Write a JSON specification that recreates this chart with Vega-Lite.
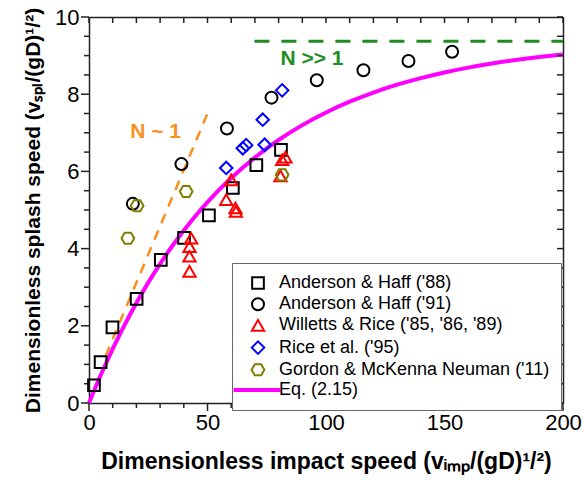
{
  "$schema": "https://vega.github.io/schema/vega-lite/v6.json",
  "width": 474,
  "height": 386,
  "autosize": "none",
  "padding": {"left": 89, "top": 17, "right": 21, "bottom": 86},
  "background": "white",
  "config": {"view": {"stroke": null}, "font": "Liberation Sans"},
  "datasets": {
    "curve": [
      {"x": 0, "y": 0}, {"x": 2, "y": 0.298}, {"x": 4, "y": 0.587}, {"x": 6, "y": 0.867}, {"x": 8, "y": 1.137},
      {"x": 10, "y": 1.4}, {"x": 15, "y": 2.02}, {"x": 20, "y": 2.592}, {"x": 25, "y": 3.119}, {"x": 30, "y": 3.606},
      {"x": 35, "y": 4.055}, {"x": 40, "y": 4.469}, {"x": 45, "y": 4.851}, {"x": 50, "y": 5.204}, {"x": 60, "y": 5.828},
      {"x": 70, "y": 6.36}, {"x": 80, "y": 6.813}, {"x": 90, "y": 7.199}, {"x": 100, "y": 7.527}, {"x": 110, "y": 7.806},
      {"x": 120, "y": 8.043}, {"x": 130, "y": 8.246}, {"x": 140, "y": 8.417}, {"x": 150, "y": 8.563}, {"x": 160, "y": 8.688},
      {"x": 170, "y": 8.794}, {"x": 180, "y": 8.885}, {"x": 190, "y": 8.962}, {"x": 200, "y": 9.027}
    ],
    "xticks": [
      {"v": 0}, {"v": 10}, {"v": 20}, {"v": 30}, {"v": 40}, {"v": 50}, {"v": 60}, {"v": 70}, {"v": 80}, {"v": 90}, {"v": 100},
      {"v": 110}, {"v": 120}, {"v": 130}, {"v": 140}, {"v": 150}, {"v": 160}, {"v": 170}, {"v": 180}, {"v": 190}, {"v": 200}
    ],
    "yticks": [
      {"v": 0}, {"v": 0.5}, {"v": 1}, {"v": 1.5}, {"v": 2}, {"v": 2.5}, {"v": 3}, {"v": 3.5}, {"v": 4}, {"v": 4.5}, {"v": 5},
      {"v": 5.5}, {"v": 6}, {"v": 6.5}, {"v": 7}, {"v": 7.5}, {"v": 8}, {"v": 8.5}, {"v": 9}, {"v": 9.5}, {"v": 10}
    ],
    "n1": [{"x": 7, "y": 1.22}, {"x": 50, "y": 7.5}],
    "nbig": [{"x": 69.8, "y": 9.37}, {"x": 200, "y": 9.37}],
    "labels": [
      {"x": 28.1, "y": 7.03, "label": "N ~ 1"},
      {"x": 94.1, "y": 8.91, "label": "N >> 1"}
    ],
    "points": [
      {"series": "Anderson & Haff ('88)", "x": 2.1, "y": 0.46},
      {"series": "Anderson & Haff ('88)", "x": 4.9, "y": 1.06},
      {"series": "Anderson & Haff ('88)", "x": 9.9, "y": 1.96},
      {"series": "Anderson & Haff ('88)", "x": 20.1, "y": 2.7},
      {"series": "Anderson & Haff ('88)", "x": 30.3, "y": 3.71},
      {"series": "Anderson & Haff ('88)", "x": 40.1, "y": 4.28},
      {"series": "Anderson & Haff ('88)", "x": 50.6, "y": 4.86},
      {"series": "Anderson & Haff ('88)", "x": 60.7, "y": 5.57},
      {"series": "Anderson & Haff ('88)", "x": 70.6, "y": 6.16},
      {"series": "Anderson & Haff ('88)", "x": 81.0, "y": 6.56},
      {"series": "Anderson & Haff ('91)", "x": 18.5, "y": 5.16},
      {"series": "Anderson & Haff ('91)", "x": 39.0, "y": 6.19},
      {"series": "Anderson & Haff ('91)", "x": 58.2, "y": 7.11},
      {"series": "Anderson & Haff ('91)", "x": 77.0, "y": 7.91},
      {"series": "Anderson & Haff ('91)", "x": 96.1, "y": 8.36},
      {"series": "Anderson & Haff ('91)", "x": 115.8, "y": 8.62},
      {"series": "Anderson & Haff ('91)", "x": 134.8, "y": 8.86},
      {"series": "Anderson & Haff ('91)", "x": 153.2, "y": 9.1},
      {"series": "Willetts & Rice ('85, '86, '89)", "x": 43.1, "y": 4.27},
      {"series": "Willetts & Rice ('85, '86, '89)", "x": 42.4, "y": 4.05},
      {"series": "Willetts & Rice ('85, '86, '89)", "x": 42.4, "y": 3.8},
      {"series": "Willetts & Rice ('85, '86, '89)", "x": 42.4, "y": 3.41},
      {"series": "Willetts & Rice ('85, '86, '89)", "x": 60.0, "y": 5.78},
      {"series": "Willetts & Rice ('85, '86, '89)", "x": 57.9, "y": 5.27},
      {"series": "Willetts & Rice ('85, '86, '89)", "x": 61.8, "y": 5.05},
      {"series": "Willetts & Rice ('85, '86, '89)", "x": 62.0, "y": 4.96},
      {"series": "Willetts & Rice ('85, '86, '89)", "x": 82.9, "y": 6.37},
      {"series": "Willetts & Rice ('85, '86, '89)", "x": 81.5, "y": 6.3},
      {"series": "Willetts & Rice ('85, '86, '89)", "x": 80.8, "y": 5.88},
      {"series": "Rice et al. ('95)", "x": 57.9, "y": 6.09},
      {"series": "Rice et al. ('95)", "x": 64.9, "y": 6.6},
      {"series": "Rice et al. ('95)", "x": 66.3, "y": 6.68},
      {"series": "Rice et al. ('95)", "x": 74.1, "y": 6.69},
      {"series": "Rice et al. ('95)", "x": 73.3, "y": 7.34},
      {"series": "Rice et al. ('95)", "x": 81.5, "y": 8.1},
      {"series": "Gordon & McKenna Neuman ('11)", "x": 16.4, "y": 4.27},
      {"series": "Gordon & McKenna Neuman ('11)", "x": 20.3, "y": 5.11},
      {"series": "Gordon & McKenna Neuman ('11)", "x": 41.0, "y": 5.48},
      {"series": "Gordon & McKenna Neuman ('11)", "x": 81.5, "y": 5.91}
    ]
  },
  "layer": [
    {
      "data": {"name": "curve"},
      "mark": {"type": "line", "color": "#FF00FF", "strokeWidth": 4, "interpolate": "monotone"},
      "encoding": {
        "x": {
          "field": "x", "type": "quantitative",
          "scale": {"domain": [0, 200], "nice": false},
          "axis": {
            "orient": "bottom",
            "values": [0, 50, 100, 150, 200],
            "format": "d",
            "ticks": false,
            "labelFontSize": 22, "labelFont": "Liberation Sans", "labelColor": "black", "labelPadding": 9,
            "labelOverlap": false, "labelFlush": false, "labelBound": false,
            "domainColor": "#222", "domainWidth": 1.5, "grid": false,
            "title": "Dimensionless impact speed (vᵢₘₚ/(gD)¹/²)",
            "titleFont": "Liberation Sans", "titleFontSize": 23, "titleFontWeight": "bold", "titleColor": "black", "titlePadding": 17
          }
        },
        "y": {
          "field": "y", "type": "quantitative",
          "scale": {"domain": [0, 10], "nice": false},
          "axis": {
            "orient": "left",
            "values": [0, 2, 4, 6, 8, 10],
            "format": "d",
            "ticks": false,
            "labelFontSize": 22, "labelFont": "Liberation Sans", "labelColor": "black", "labelPadding": 10,
            "labelOverlap": false, "labelBound": false, "labelFlush": false,
            "domainColor": "#222", "domainWidth": 1.5, "grid": false,
            "title": "Dimensionless splash speed (vₛₚₗ/(gD)¹/²)",
            "titleFont": "Liberation Sans", "titleFontSize": 21, "titleFontWeight": "bold", "titleColor": "black", "titlePadding": 11
          }
        }
      }
    },
    {
      "data": {"name": "curve"},
      "mark": {"type": "point", "opacity": 0},
      "encoding": {
        "x": {
          "field": "x", "type": "quantitative",
          "axis": {"orient": "top", "labels": false, "ticks": false, "title": null, "grid": false, "domainColor": "#222", "domainWidth": 1.5}
        },
        "y": {
          "field": "y", "type": "quantitative",
          "axis": {"orient": "right", "labels": false, "ticks": false, "title": null, "grid": false, "domainColor": "#222", "domainWidth": 1.5}
        }
      }
    },
    {
      "data": {"name": "xticks"},
      "transform": [{"filter": "datum.v % 50 === 0"}],
      "mark": {"type": "rule", "color": "#222", "strokeWidth": 1.5, "y2Offset": 8},
      "encoding": {
        "x": {"field": "v", "type": "quantitative", "axis": null},
        "y": {"datum": 0, "type": "quantitative", "axis": null},
        "y2": {"datum": 0}
      }
    },
    {
      "data": {"name": "xticks"},
      "transform": [{"filter": "datum.v % 50 !== 0"}],
      "mark": {"type": "rule", "color": "#222", "strokeWidth": 1.5, "y2Offset": 5},
      "encoding": {
        "x": {"field": "v", "type": "quantitative", "axis": null},
        "y": {"datum": 0, "type": "quantitative", "axis": null},
        "y2": {"datum": 0}
      }
    },
    {
      "data": {"name": "xticks"},
      "mark": {"type": "rule", "color": "#222", "strokeWidth": 1.5, "y2Offset": 6},
      "encoding": {
        "x": {"field": "v", "type": "quantitative", "axis": null},
        "y": {"datum": 10, "type": "quantitative", "axis": null},
        "y2": {"datum": 10}
      }
    },
    {
      "data": {"name": "yticks"},
      "transform": [{"filter": "datum.v % 2 === 0"}],
      "mark": {"type": "rule", "color": "#222", "strokeWidth": 1.5, "x2Offset": -8},
      "encoding": {
        "y": {"field": "v", "type": "quantitative", "axis": null},
        "x": {"datum": 0, "type": "quantitative", "axis": null},
        "x2": {"datum": 0}
      }
    },
    {
      "data": {"name": "yticks"},
      "transform": [{"filter": "datum.v % 2 !== 0"}],
      "mark": {"type": "rule", "color": "#222", "strokeWidth": 1.5, "x2Offset": -5},
      "encoding": {
        "y": {"field": "v", "type": "quantitative", "axis": null},
        "x": {"datum": 0, "type": "quantitative", "axis": null},
        "x2": {"datum": 0}
      }
    },
    {
      "data": {"name": "yticks"},
      "mark": {"type": "rule", "color": "#222", "strokeWidth": 1.5, "x2Offset": -6},
      "encoding": {
        "y": {"field": "v", "type": "quantitative", "axis": null},
        "x": {"datum": 200, "type": "quantitative", "axis": null},
        "x2": {"datum": 200}
      }
    },
    {
      "data": {"name": "n1"},
      "mark": {"type": "line", "color": "#F7901E", "strokeWidth": 2.5, "strokeDash": [10, 8]},
      "encoding": {
        "x": {"field": "x", "type": "quantitative", "axis": null},
        "y": {"field": "y", "type": "quantitative", "axis": null}
      }
    },
    {
      "data": {"name": "nbig"},
      "mark": {"type": "line", "color": "#1E8C1E", "strokeWidth": 3, "strokeDash": [15, 12]},
      "encoding": {
        "x": {"field": "x", "type": "quantitative", "axis": null},
        "y": {"field": "y", "type": "quantitative", "axis": null}
      }
    },
    {
      "data": {"name": "labels"},
      "transform": [{"filter": "datum.label === 'N ~ 1'"}],
      "mark": {"type": "text", "color": "#F7901E", "fontSize": 21, "fontWeight": "bold", "font": "Liberation Sans", "align": "center", "baseline": "middle"},
      "encoding": {
        "x": {"field": "x", "type": "quantitative", "axis": null},
        "y": {"field": "y", "type": "quantitative", "axis": null},
        "text": {"field": "label"}
      }
    },
    {
      "data": {"name": "labels"},
      "transform": [{"filter": "datum.label === 'N >> 1'"}],
      "mark": {"type": "text", "color": "#1E8C1E", "fontSize": 21, "fontWeight": "bold", "font": "Liberation Sans", "align": "center", "baseline": "middle"},
      "encoding": {
        "x": {"field": "x", "type": "quantitative", "axis": null},
        "y": {"field": "y", "type": "quantitative", "axis": null},
        "text": {"field": "label"}
      }
    },
    {
      "data": {"name": "points"},
      "mark": {"type": "point", "filled": false, "strokeWidth": 2, "opacity": 1},
      "encoding": {
        "x": {"field": "x", "type": "quantitative", "axis": null},
        "y": {"field": "y", "type": "quantitative", "axis": null},
        "color": {
          "field": "series", "type": "nominal",
          "scale": {
            "domain": ["Anderson & Haff ('88)", "Anderson & Haff ('91)", "Willetts & Rice ('85, '86, '89)", "Rice et al. ('95)", "Gordon & McKenna Neuman ('11)", "Eq. (2.15)"],
            "range": ["#000000", "#000000", "#FF0000", "#0000FF", "#808000", "#FF00FF"]
          },
          "legend": {
            "orient": "none", "legendX": 143, "legendY": 246, "title": null,
            "labelFontSize": 18, "labelFont": "Liberation Sans", "labelColor": "black", "labelLimit": 500,
            "padding": 11, "rowPadding": 1.2, "strokeColor": "#666", "fillColor": "white",
            "symbolOffset": 6, "labelOffset": 12, "symbolStrokeWidth": 2,
            "encode": {"symbols": {"update": {"fill": {"value": "transparent"}}}}
          }
        },
        "shape": {
          "field": "series", "type": "nominal",
          "scale": {
            "domain": ["Anderson & Haff ('88)", "Anderson & Haff ('91)", "Willetts & Rice ('85, '86, '89)", "Rice et al. ('95)", "Gordon & McKenna Neuman ('11)", "Eq. (2.15)"],
            "range": ["square", "circle", "triangle-up", "diamond", "M-1,0L-0.5,-0.866L0.5,-0.866L1,0L0.5,0.866L-0.5,0.866Z", "M-3.6,-0.15L3.3,-0.15L3.3,0.15L-3.6,0.15Z"]
          }
        },
        "size": {
          "field": "series", "type": "nominal",
          "scale": {
            "domain": ["Anderson & Haff ('88)", "Anderson & Haff ('91)", "Willetts & Rice ('85, '86, '89)", "Rice et al. ('95)", "Gordon & McKenna Neuman ('11)", "Eq. (2.15)"],
            "range": [137, 169, 230, 240, 169, 150]
          }
        }
      }
    }
  ],
  "resolve": {"axis": {"x": "independent", "y": "independent"}}
}
